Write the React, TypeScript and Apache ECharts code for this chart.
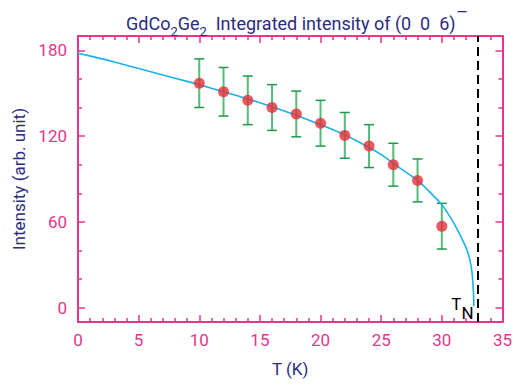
import React, { useEffect, useRef } from 'react';
import * as echarts from 'echarts';

const TEMPS = [10, 12, 14, 16, 18, 20, 22, 24, 26, 28, 30];
const INTENSITY = [157, 151, 145, 140, 135.5, 129, 120.5, 113, 100, 89, 57];
const ERRORS = [17, 17, 17, 16, 16, 16, 16, 15, 15, 15, 16];
const FIT_T = [0, 2, 4, 6, 8, 10, 12, 14, 16, 18, 20, 22, 24, 25, 26, 27, 28, 29, 30, 30.5, 31, 31.5, 32, 32.3, 32.5, 32.6, 32.65];
const FIT_I = [178, 174, 169.5, 165, 160.5, 156, 151, 146, 140.5, 134.5, 128, 121, 112, 107, 101, 95, 89, 81, 72, 66, 59, 51, 42, 34, 24, 12, 1];
const T_N = 33;
const Y_MAJOR = [0, 60, 120, 180];
const Y_MINOR = [20, 40, 80, 100, 140, 160];

const PINK = '#e8358a';
const NAVY = '#2b2b80';
const FONT = 'Roboto';

export default function App() {
  const ref = useRef<HTMLDivElement>(null);
  useEffect(() => {
    const chart = echarts.init(ref.current!, null, { renderer: 'svg' });
    const xCommon = {
      type: 'value', min: 0, max: 35, interval: 5,
      axisLine: { onZero: false, lineStyle: { color: PINK, width: 2 } },
      axisTick: { inside: true, length: 7, lineStyle: { color: PINK, width: 1.5 } },
      minorTick: { show: true, splitNumber: 5, length: 4, lineStyle: { color: PINK, width: 1.5 } },
      splitLine: { show: false },
    };
    const yBase = (pos: string, vals: number[], len: number, labels: boolean, line: boolean) => ({
      type: 'value', min: -10, max: 190, position: pos,
      axisLine: { show: line, onZero: false, lineStyle: { color: PINK, width: 2 } },
      axisTick: { show: true, inside: true, length: len, customValues: vals, lineStyle: { color: PINK, width: 1.5 } },
      axisLabel: labels
        ? { show: true, customValues: vals, color: PINK, fontSize: 17, fontFamily: FONT, margin: 11 }
        : { show: false },
      splitLine: { show: false },
    });
    chart.setOption({
      animation: false,
      title: {
        text: '{a|GdCo}{s|2}{a|Ge}{s|2}{a|  Integrated intensity of (0  0  6)}{o|—}',
        left: 121, top: 0,
        textStyle: {
          fontWeight: 'normal',
          rich: {
            a: { fontSize: 18, lineHeight: 18, color: NAVY, fontFamily: FONT, fontWeight: 'normal', padding: [9, 0, 0, 0], verticalAlign: 'top' },
            s: { fontSize: 13, lineHeight: 13, color: NAVY, fontFamily: FONT, fontWeight: 'normal', padding: [20, 0, 0, 0], verticalAlign: 'top' },
            o: { fontSize: 14, lineHeight: 12, color: NAVY, fontFamily: FONT, fontWeight: 'normal', padding: [0, 0, 0, 1], verticalAlign: 'top' },
          },
        },
      },
      grid: { left: 78, right: 10, top: 36, bottom: 63, containLabel: false },
      xAxis: [
        {
          ...xCommon, position: 'bottom',
          axisLabel: { color: PINK, fontSize: 17, fontFamily: FONT, margin: 9 },
          name: 'T (K)', nameLocation: 'middle', nameGap: 38,
          nameTextStyle: { color: NAVY, fontSize: 17, fontFamily: FONT },
        },
        { ...xCommon, position: 'top', axisLabel: { show: false } },
      ],
      yAxis: [
        {
          ...yBase('left', Y_MAJOR, 7, true, true),
          name: 'Intensity (arb. unit)', nameLocation: 'middle', nameGap: 50,
          nameTextStyle: { color: NAVY, fontSize: 17, fontFamily: FONT },
        },
        yBase('left', Y_MINOR, 4, false, false),
        yBase('right', Y_MAJOR, 7, false, true),
        yBase('right', Y_MINOR, 4, false, false),
      ],
      series: [
        {
          type: 'custom',
          data: TEMPS.map((t, i) => [t, INTENSITY[i] - ERRORS[i], INTENSITY[i] + ERRORS[i]]),
          encode: { x: 0, y: [1, 2] },
          z: 2,
          renderItem: (params: any, api: any) => {
            const x = api.value(0);
            const lo = api.coord([x, api.value(1)]);
            const hi = api.coord([x, api.value(2)]);
            const hw = 5;
            return {
              type: 'group',
              children: [
                { type: 'line', shape: { x1: lo[0], y1: lo[1], x2: hi[0], y2: hi[1] }, style: { stroke: '#55bb78', lineWidth: 2 } },
                { type: 'line', shape: { x1: lo[0] - hw, y1: lo[1], x2: lo[0] + hw, y2: lo[1] }, style: { stroke: '#1e9a48', lineWidth: 1.5 } },
                { type: 'line', shape: { x1: hi[0] - hw, y1: hi[1], x2: hi[0] + hw, y2: hi[1] }, style: { stroke: '#1e9a48', lineWidth: 1.5 } },
              ],
            };
          },
        },
        {
          type: 'line',
          data: FIT_T.map((t, i) => [t, FIT_I[i]]),
          showSymbol: false,
          symbol: 'none',
          smooth: 0.2,
          z: 3,
          lineStyle: { color: '#1ab2ea', width: 1.6 },
          markLine: {
            silent: true,
            symbol: ['none', 'none'],
            label: { show: false },
            lineStyle: { color: '#000', type: [9, 5], width: 2 },
            data: [{ xAxis: T_N }],
          },
          markPoint: {
            symbol: 'circle', symbolSize: 0,
            data: [{ coord: [T_N - 1.3, 2.5] }],
            label: {
              show: true, position: 'inside',
              formatter: '{t|T}{n|N}',
              rich: {
                t: { fontSize: 17, lineHeight: 17, color: '#000', fontFamily: FONT, padding: [0, 0, 0, 0], verticalAlign: 'top' },
                n: { fontSize: 17, lineHeight: 17, color: '#000', fontFamily: FONT, padding: [9, 0, 0, 0], verticalAlign: 'top' },
              },
            },
          },
        },
        {
          type: 'scatter',
          data: TEMPS.map((t, i) => [t, INTENSITY[i]]),
          symbolSize: 11,
          z: 4,
          itemStyle: { color: '#e5303a' },
        },
      ],
    });
    return () => chart.dispose();
  }, []);
  return <div ref={ref} style={{ width: 515, height: 385, position: 'absolute', left: 0, top: 0 }} />;
}
